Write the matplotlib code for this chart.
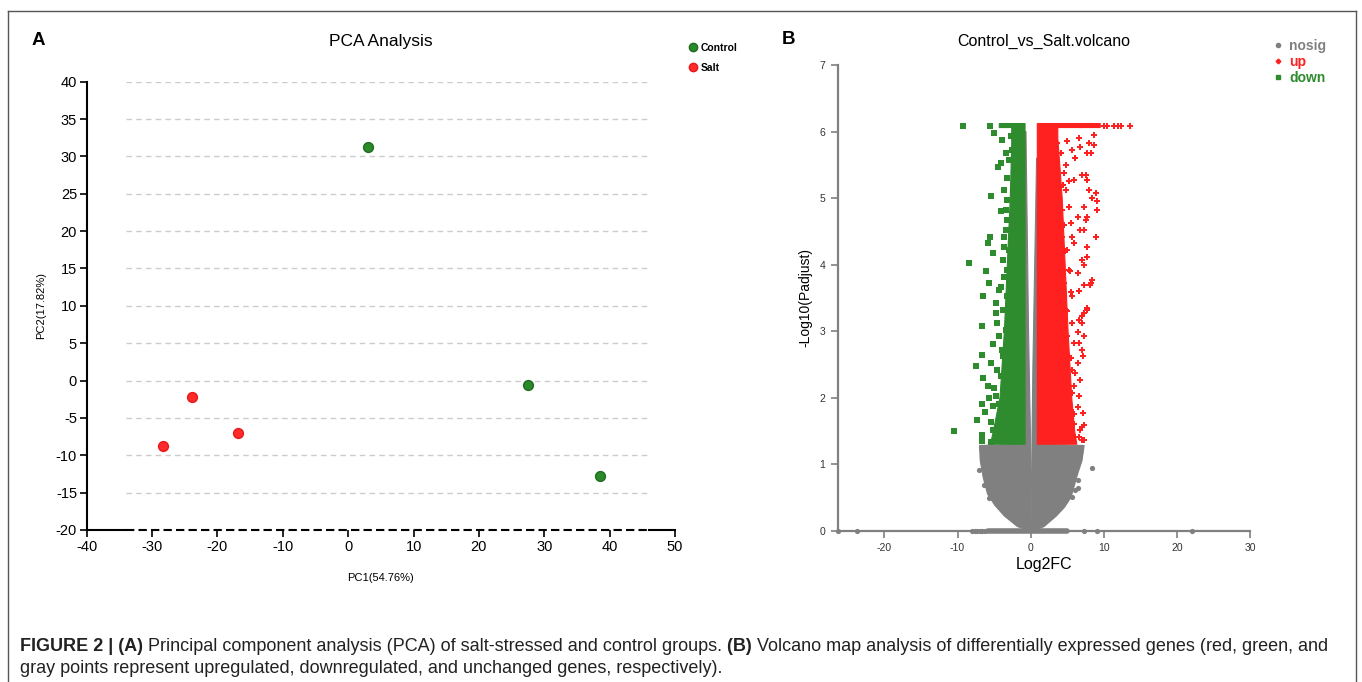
import numpy as np
import matplotlib
matplotlib.use("Agg")
import matplotlib.pyplot as plt
from matplotlib.lines import Line2D

plt.rcParams['font.family'] = ['Liberation Sans', 'DejaVu Sans']
plt.rcParams['axes.unicode_minus'] = False

# ---------------- PCA data ----------------
control_pc1 = [3.0, 27.5, 38.5]
control_pc2 = [31.3, -0.6, -12.8]
salt_pc1 = [-23.9, -28.4, -16.9]
salt_pc2 = [-2.2, -8.7, -7.0]
pca_xticks = list(range(-40, 51, 10))
pca_yticks = list(range(-20, 41, 5))

# ---------------- Volcano data ----------------
# dense clouds as envelopes
gray_left_x = [0.0, -1.8, -3.6, -4.9, -5.9, -6.5, -6.9, -7.0, -0.8, -0.8, -0.65, -0.3, -0.05, -0.03]
gray_left_y = [0.0, 0.06, 0.22, 0.38, 0.55, 0.8, 1.05, 1.28, 1.30, 6.0, 6.0, 3.0, 1.5, 0.7]
gray_right_x = [0.02, 0.1, 0.3, 0.8, 0.95, 0.95, 7.3, 7.0, 6.4, 5.5, 4.6, 3.5, 1.8, 0.3]
gray_right_y = [0.0, 0.7, 2.5, 5.6, 5.6, 1.30, 1.28, 1.05, 0.85, 0.5, 0.35, 0.22, 0.06, 0.0]
gray_row_x = [-5.9, 5.0]
green_core_x = [-0.78, -0.78, -4.3, -4.3, -2.6, -2.6, -2.8, -3.2, -3.6, -4.2, -5.1, -5.5]
green_core_y = [1.30, 6.12, 6.12, 6.06, 6.06, 5.8, 5.0, 4.0, 3.0, 2.0, 1.5, 1.30]
red_core_x = [0.9, 0.9, 9.5, 9.5, 3.7, 3.7, 4.3, 4.7, 5.1, 5.6, 6.0, 6.3]
red_core_y = [1.30, 6.12, 6.12, 6.06, 6.06, 5.9, 5.0, 4.0, 3.0, 2.0, 1.5, 1.30]

# scattered genes outside the dense clouds
nosig_x = [-26.4, -23.8, -8.0, -7.6, -7.3, -7.0, -6.6, -6.2, 7.3, 9.1, 22.1,
           8.4, -7.05, -6.8, -6.6, 6.4, 6.1, 6.4, 5.7, -6.4, -5.7, 6.8, 6.6, 5.45]
nosig_y = [0.0, 0.0, 0.0, 0.0, 0.0, 0.0, 0.0, 0.0, 0.0, 0.0, 0.0,
           0.94, 0.91, 1.26, 1.11, 0.76, 0.61, 0.64, 0.51, 0.69, 0.49, 1.16, 1.21, 0.99]
up_x = [10.0, 10.4, 11.4, 11.9, 12.4, 13.6,
        8.6, 7.95, 8.7, 7.7, 8.2, 6.8, 6.1, 6.6, 5.0, 4.8, 7.05, 7.7, 7.5, 8.9,
        9.1, 7.95, 8.4, 7.3, 9.1, 5.9, 5.2, 7.7, 7.5, 7.3, 6.8, 8.9, 5.7, 5.9,
        7.7, 7.7, 7.05, 7.3, 8.4, 6.4, 7.3, 8.2, 5.7, 7.7, 7.3, 6.6, 7.05, 6.4,
        7.3, 6.6, 7.05, 6.4, 6.1, 6.8, 5.9, 6.6, 6.4, 5.9, 7.3, 6.8, 7.3, 6.1,
        8.1, 7.65, 6.95, 7.2, 7.2, 7.0, 7.0, 4.6, 5.3, 4.9, 5.5, 4.4, 4.7,
        4.5, 5.2, 4.8, 5.45, 4.3, 5.0, 5.2, 4.5, 5.45, 4.8, 5.7, 5.0, 5.9,
        5.2, 5.7, 5.0, 5.7, 5.45, 5.9, 6.6, 4.1, 3.6, 5.7, 4.3, 6.4, 6.6]
up_y = [6.09, 6.09, 6.09, 6.09, 6.09, 6.09,
        5.95, 5.82, 5.8, 5.67, 5.67, 5.77, 5.6, 5.9, 5.85, 5.5, 5.35, 5.27, 5.35, 5.07,
        4.95, 5.12, 5.0, 4.87, 4.82, 5.27, 4.87, 4.72, 4.67, 4.52, 4.52, 4.42, 4.42, 4.32,
        4.27, 4.12, 4.07, 4.0, 3.77, 3.87, 3.69, 3.72, 3.52, 3.32, 3.27, 3.17, 3.12, 2.99,
        2.92, 2.82, 2.72, 2.52, 2.37, 2.27, 2.17, 2.02, 1.86, 1.76, 1.59, 1.51, 1.36, 1.41,
        3.69, 3.35, 3.22, 2.62, 1.77, 1.56, 1.36, 4.6, 3.9, 3.3, 2.6, 5.2, 4.2,
        5.37, 5.25, 5.12, 4.62, 4.42, 4.22, 3.92, 3.72, 3.59, 3.32, 3.12, 2.92, 2.82,
        2.62, 2.42, 2.22, 2.07, 1.81, 1.61, 1.41, 5.67, 5.82, 5.72, 4.82, 4.72, 3.6]
down_x = [-9.3, -5.6, -5.0, -3.95, -2.7, -2.95, -4.1, -4.45, -3.6, -5.45, -3.2, -4.1,
          -3.4, -5.6, -5.8, -3.6, -5.2, -3.6, -8.4, -6.1, -5.7, -4.1, -6.5, -4.8,
          -4.8, -6.6, -5.2, -3.95, -6.6, -7.5, -5.45, -6.5, -5.9, -5.0, -5.7, -6.7,
          -5.1, -6.2, -7.3, -5.45, -10.5, -6.6, -5.2, -6.6, -5.45,
          -3.2, -3.4, -2.95, -3.85, -3.2, -3.6, -4.3, -3.2, -3.85, -4.55, -3.4, -4.3,
          -3.85, -4.55, -4.1, -4.8, -4.3, -3.2, -2.5, -3.4]
down_y = [6.09, 6.09, 5.98, 5.87, 5.93, 5.57, 5.52, 5.46, 5.12, 5.03, 4.97, 4.8,
          4.82, 4.42, 4.32, 4.41, 4.17, 4.27, 4.03, 3.91, 3.72, 3.67, 3.53, 3.42,
          3.27, 3.07, 2.8, 2.72, 2.64, 2.48, 2.52, 2.29, 2.17, 2.14, 1.99, 1.91,
          1.87, 1.79, 1.66, 1.64, 1.5, 1.44, 1.51, 1.35, 1.34,
          4.67, 4.52, 4.22, 4.07, 3.92, 3.82, 3.62, 3.52, 3.32, 3.12, 3.02, 2.92,
          2.62, 2.42, 2.32, 2.02, 1.91, 5.3, 5.72, 5.67]
volcano_xticks = [-20, -10, 0, 10, 20, 30]
volcano_yticks = list(range(0, 8))

GREEN = '#2e8b2e'
RED = '#ff2020'
GRAY = '#808080'

fig = plt.figure(figsize=(13.62, 6.82), dpi=100)

# ---------------- panel A ----------------
ax = fig.add_axes([0.0637, 0.2229, 0.4319, 0.6573])
ax.set_xlim(-40, 50)
ax.set_ylim(-20, 40)
for lvl in pca_yticks[1:]:
    ax.plot([-34, 46], [lvl, lvl], color='#cccccc', lw=1, ls=(0, (4, 3)), zorder=1)
ax.plot([-34, 46], [-20, -20], color='black', lw=1.5, ls=(0, (4, 2)), zorder=3, clip_on=False)
ax.plot([-40, -34], [-20, -20], color='black', lw=1.5, zorder=3, clip_on=False)
ax.plot([46, 50], [-20, -20], color='black', lw=1.5, zorder=3, clip_on=False)
ax.scatter(control_pc1, control_pc2, s=50, color='#2a8a2a', edgecolor='#1f6b1f', lw=1, zorder=4)
ax.scatter(salt_pc1, salt_pc2, s=50, color='#ff2a2a', edgecolor='#e81818', lw=1, zorder=4)
for s in ['top', 'right', 'bottom']:
    ax.spines[s].set_visible(False)
ax.spines['left'].set_linewidth(1.5)
ax.set_xticks(pca_xticks)
ax.set_yticks(pca_yticks)
ax.tick_params(direction='out', length=5, width=1.2, labelsize=10.5, pad=2)
ax.set_xlabel('PC1(54.76%)', fontsize=8, labelpad=14)
ax.set_ylabel('PC2(17.82%)', fontsize=8, labelpad=7)
ax.set_title('PCA Analysis', fontsize=12.5, pad=26)

h_ctrl = Line2D([], [], ls='none', marker='o', ms=6, mfc='#2a8a2a', mec='#1f6b1f')
h_salt = Line2D([], [], ls='none', marker='o', ms=6, mfc='#ff2a2a', mec='#e81818')
leg = fig.legend([h_ctrl, h_salt], ['Control', 'Salt'], loc='upper left',
                 bbox_to_anchor=(0.503, 0.945), frameon=False, fontsize=7.5,
                 handlelength=0.6, handletextpad=0.4, labelspacing=0.95, borderpad=0)
for t in leg.get_texts():
    t.set_fontweight('bold')

fig.text(0.023, 0.941, 'A', fontsize=13.5, fontweight='bold', va='center')

# ---------------- panel B ----------------
bx = fig.add_axes([0.6150, 0.2219, 0.3029, 0.6828])
bx.set_xlim(-26.4, 30)
bx.set_ylim(0, 7)
bx.fill(gray_left_x, gray_left_y, color=GRAY, lw=0.8, zorder=2)
bx.fill(gray_right_x, gray_right_y, color=GRAY, lw=0.8, zorder=2)
bx.plot(gray_row_x, [0, 0], color=GRAY, lw=4, solid_capstyle='round', zorder=2, clip_on=False)
bx.fill(green_core_x, green_core_y, color=GREEN, lw=0.8, zorder=3)
bx.fill(red_core_x, red_core_y, color=RED, lw=0.8, zorder=3)
bx.scatter(nosig_x, nosig_y, s=14, marker='o', color=GRAY, lw=0, zorder=2, clip_on=False)
bx.scatter(up_x, up_y, s=13, marker='P', color=RED, lw=0, zorder=3)
bx.scatter(down_x, down_y, s=14, marker='s', color=GREEN, lw=0, zorder=3)
for s in ['top', 'right']:
    bx.spines[s].set_visible(False)
for s in ['left', 'bottom']:
    bx.spines[s].set_color(GRAY)
    bx.spines[s].set_linewidth(1.6)
bx.set_xticks(volcano_xticks)
bx.set_yticks(volcano_yticks)
bx.tick_params(direction='out', length=5, width=1.2, color=GRAY, labelsize=7.5,
               labelcolor='#333333', pad=4)
bx.set_xlabel('Log2FC', fontsize=11.5, labelpad=3)
bx.set_ylabel('-Log10(Padjust)', fontsize=10, labelpad=5)
bx.set_title('Control_vs_Salt.volcano', fontsize=11.5, pad=14)

hn = Line2D([], [], ls='none', marker='o', ms=3, color=GRAY)
hu = Line2D([], [], ls='none', marker='P', ms=3, color=RED)
hd = Line2D([], [], ls='none', marker='s', ms=3, color=GREEN)
leg2 = fig.legend([hn, hu, hd], ['nosig', 'up', 'down'], loc='upper left',
                  bbox_to_anchor=(0.930, 0.953), frameon=False, fontsize=10,
                  handlelength=0.6, handletextpad=0.5, labelspacing=0.15, borderpad=0)
for t, c in zip(leg2.get_texts(), [GRAY, RED, GREEN]):
    t.set_color(c)
    t.set_fontweight('bold')

fig.text(0.574, 0.942, 'B', fontsize=13.5, fontweight='bold', va='center')

# ---------------- frame ----------------
fr = dict(color='#555555', lw=1.0, transform=fig.transFigure)
fig.add_artist(Line2D([0.0059, 0.9956], [0.984, 0.984], **fr))
fig.add_artist(Line2D([0.0059, 0.0059], [0.0, 0.984], **fr))
fig.add_artist(Line2D([0.9956, 0.9956], [0.0, 0.984], **fr))

# ---------------- caption ----------------
renderer = fig.canvas.get_renderer()
W = fig.get_figwidth() * fig.dpi
pieces = [('FIGURE 2 | (A)', 'bold'),
          (' Principal component analysis (PCA) of salt-stressed and control groups.', 'normal'),
          (' (B)', 'bold'),
          (' Volcano map analysis of differentially expressed genes (red, green, and', 'normal')]
x = 20 / W
for txt, wt in pieces:
    t = fig.text(x, 1 - 651 / 682, txt, fontsize=13.0, fontweight=wt,
                 color='#222222', va='baseline')
    x = t.get_window_extent(renderer).x1 / W
fig.text(20 / W, 1 - 673 / 682,
         'gray points represent upregulated, downregulated, and unchanged genes, respectively).',
         fontsize=13.0, color='#222222', va='baseline')

fig.savefig('out.png', dpi=100)
